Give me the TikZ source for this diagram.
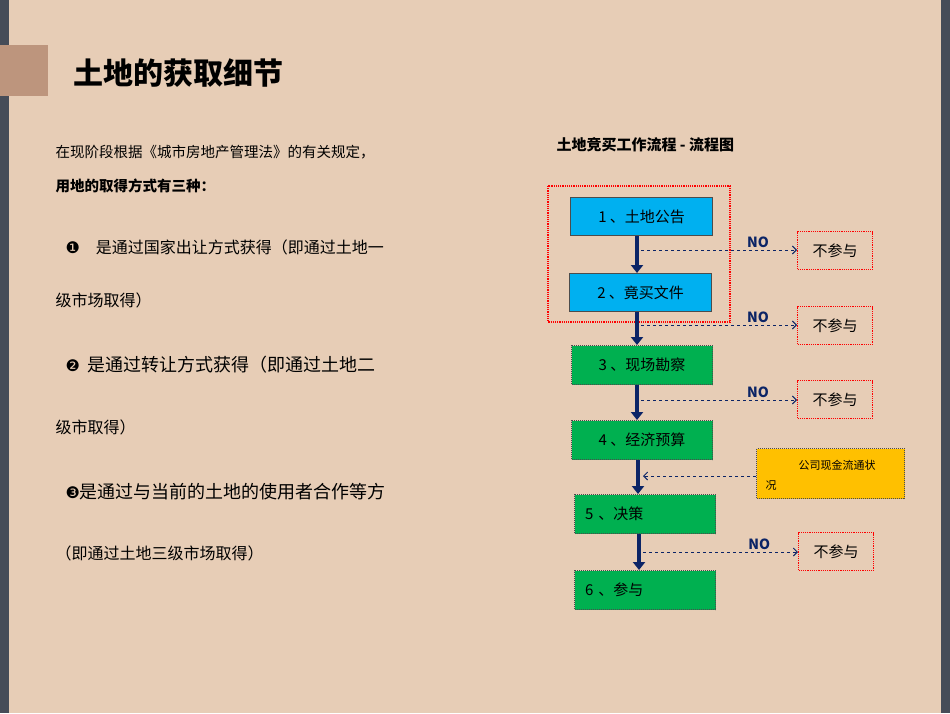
\documentclass[tikz,border=0pt]{standalone}
\usepackage{fontspec}
\setmainfont{Noto Sans CJK SC}
\newfontfamily\djv{DejaVu Sans}
\usetikzlibrary{arrows.meta}
\definecolor{bg}{HTML}{E7CDB6}
\definecolor{frame}{HTML}{464C58}
\definecolor{navy}{HTML}{0B2466}
\definecolor{cyanb}{HTML}{00B0F0}
\definecolor{greenb}{HTML}{00B050}
\definecolor{yel}{HTML}{FFC000}
\definecolor{tab}{HTML}{BD957D}
\tikzset{
 cyanbox/.style={draw=gray!60!black,line width=1.2pt,fill=cyanb,anchor=north west,minimum width=142pt,minimum height=38pt,font=\fontsize{15}{15}\selectfont,text=black},
 greenbox/.style={draw=gray!60!black,densely dotted,line width=1pt,fill=greenb,anchor=north west,minimum width=141pt,minimum height=39pt,font=\fontsize{15}{15}\selectfont},
 nobox/.style={draw=red,densely dotted,line width=1.2pt,anchor=north west,minimum width=75pt,minimum height=38pt,font=\fontsize{15}{15}\selectfont},
 downarrow/.style={navy,line width=4pt,-{Triangle[width=12pt,length=8pt]}},
 dasharrow/.style={navy,dashed,line width=0.9pt,-{Straight Barb[length=4pt,width=8pt]}},
 nolab/.style={font=\bfseries\fontsize{14}{14}\selectfont},
 body/.style={anchor=west,font=\fontsize{16}{16}\selectfont},
}
\begin{document}
\begin{tikzpicture}[x=1pt,y=-1pt]
\fill[frame] (0,0) rectangle (950,713);
\fill[bg] (9,0) rectangle (941,713);
\useasboundingbox (0,0) rectangle (950,713);
\fill[tab] (0,45) rectangle (48,96);
\node[anchor=west,font=\bfseries\fontsize{30}{30}\selectfont] (title) at (70,73) {土地的获取细节};
% left text
\node[anchor=west,font=\fontsize{14.5}{14.5}\selectfont] (t1) at (52,152) {在现阶段根据《城市房地产管理法》的有关规定，};
\node[anchor=west,font=\bfseries\fontsize{14.5}{14.5}\selectfont] (t2) at (52,186) {用地的取得方式有三种：};
\node[body] (t3) at (62,247) {{\djv ❶}\quad 是通过国家出让方式获得（即通过土地一};
\node[body] (t4) at (52,300) {级市场取得）};
\node[body,font=\fontsize{18}{18}\selectfont] (t5) at (62,365) {{\djv\fontsize{16}{16}\selectfont ❷}~ 是通过转让方式获得（即通过土地二};
\node[body] (t6) at (52,427) {级市取得）};
\node[body,font=\fontsize{18}{18}\selectfont] (t7) at (62,492) {{\djv\fontsize{16}{16}\selectfont ❸}是通过与当前的土地的使用者合作等方};
\node[body] (t8) at (52,553) {（即通过土地三级市场取得）};
% flowchart
\node[anchor=west,font=\bfseries\fontsize{15}{15}\selectfont] (head) at (553,145) {土地竞买工作流程 - 流程图};
\draw[red,densely dotted,line width=1.2pt] (548,186) rectangle (730,322);
\node[cyanbox] (b1) at (570,197) {1 、土地公告};
\node[cyanbox] (b2) at (569,273) {2 、竟买文件};
\node[greenbox] (b3) at (571,345) {3 、现场勘察};
\node[greenbox] (b4) at (571,420) {4 、经济预算};
\node[greenbox,align=left,text width=120pt] (b5) at (574,494) {5 、决策};
\node[greenbox,align=left,text width=120pt] (b6) at (574,570) {6 、参与};
\draw[downarrow] (b1.south -| 637,0) -- (b2.north -| 637,0);
\draw[downarrow] (b2.south -| 637,0) -- (b3.north -| 637,0);
\draw[downarrow] (b3.south -| 637,0) -- (b4.north -| 637,0);
\draw[downarrow] (b4.south -| 638,0) -- (b5.north -| 638,0);
\draw[downarrow] (b5.south -| 639,0) -- (b6.north -| 639,0);
\node[nobox] (n1) at (797,231) {不参与};
\node[nobox] (n2) at (797,306) {不参与};
\node[nobox] (n3) at (797,380) {不参与};
\node[nobox] (n4) at (798,532) {不参与};
\coordinate (c1) at (641,250); \coordinate (c2) at (641,325);
\coordinate (c3) at (641,400); \coordinate (c4) at (643,552);
\draw[dasharrow] (c1) -- (c1 -| n1.west) node[nolab,pos=0.75,above=-1pt] {NO};
\draw[dasharrow] (c2) -- (c2 -| n2.west) node[nolab,pos=0.75,above=-1pt] {NO};
\draw[dasharrow] (c3) -- (c3 -| n3.west) node[nolab,pos=0.75,above=-1pt] {NO};
\draw[dasharrow] (c4) -- (c4 -| n4.west) node[nolab,pos=0.75,above=-1pt] {NO};
\node[draw=gray!60!black,densely dotted,line width=1pt,fill=yel,anchor=north west,minimum width=148pt,minimum height=50pt] (y) at (756,448) {};
\node[anchor=west,font=\fontsize{11}{11}\selectfont] (y1) at (795,465) {公司现金流通状};
\node[anchor=west,font=\fontsize{11}{11}\selectfont] (y2) at (762,486) {况};
\coordinate (c5) at (643,476);
\draw[dasharrow] (y.west |- c5) -- (c5);
\end{tikzpicture}
\end{document}
